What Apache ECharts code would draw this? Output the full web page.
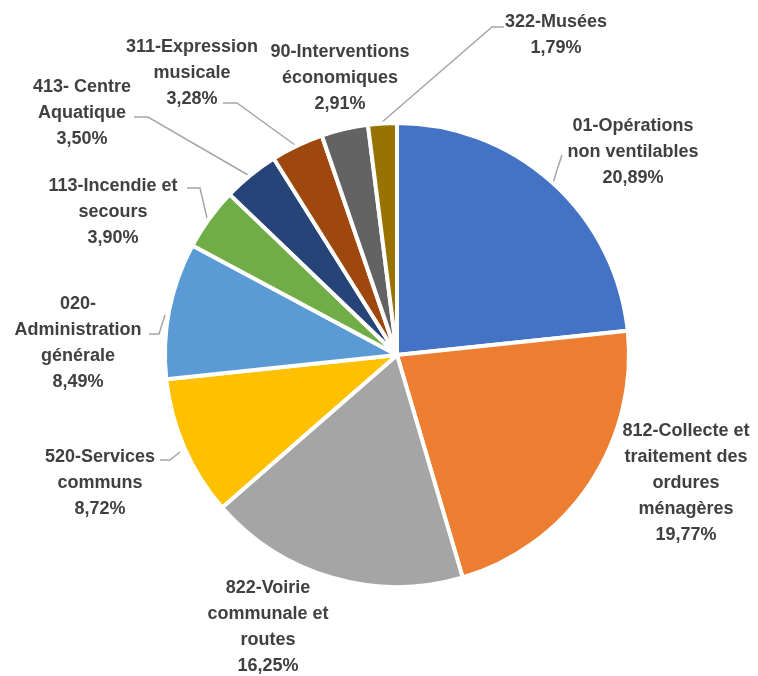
<!DOCTYPE html>
<html><head><meta charset="utf-8">
<script src="https://cdn.jsdelivr.net/npm/echarts@6/dist/echarts.min.js"></script>
<style>html,body{margin:0;padding:0;background:#fff}#c{width:758px;height:676px}</style>
</head><body><div id="c"></div>
<script>
const categories = [
  "01-Opérations\nnon ventilables",
  "812-Collecte et\ntraitement des\nordures\nménagères",
  "822-Voirie\ncommunale et\nroutes",
  "520-Services\ncommuns",
  "020-\nAdministration\ngénérale",
  "113-Incendie et\nsecours",
  "413- Centre\nAquatique",
  "311-Expression\nmusicale",
  "90-Interventions\néconomiques",
  "322-Musées"
];
const values = [20.89, 19.77, 16.25, 8.72, 8.49, 3.90, 3.50, 3.28, 2.91, 1.79];
const colors = ["#4472C4","#ED7D31","#A5A5A5","#FFC000","#5B9BD5","#70AD47","#264478","#9E480E","#636363","#997300"];
// label block centers (layout)
const labelPos = [[633,152],[686,483],[268,627],[100,483],[78,343],[113,212],[82,113],[192,73],[340,78],[556,35]];
// leader line points (layout), null = no line
const leaderLines = [
  [[562,155],[557,170],[553,183]],
  null,
  null,
  [[160,460],[170,460],[180,452]],
  [[149,334],[159,334],[165,315]],
  [[187,188],[200,188],[207,218]],
  [[134,117],[148,117],[248,175]],
  [[223,103],[237,103],[295,145]],
  null,
  [[504,27],[492,27],[381,123]]
];
const chart = echarts.init(document.getElementById('c'));
chart.setOption({
  animation:false,
  series:[{
    type:'pie',
    center:[397,355],
    radius:232,
    startAngle:90,
    clockwise:true,
    data: categories.map((n,i)=>({name:n,value:values[i],itemStyle:{color:colors[i]},
      labelLine:{show: leaderLines[i]!==null}})),
    itemStyle:{borderColor:'#fff',borderWidth:4},
    label:{
      show:true, position:'outside', overflow:'none',
      formatter: p => p.name + '\n' + p.value.toFixed(2).replace('.',',') + '%',
      fontFamily:'"Liberation Sans", Arial, sans-serif',
      fontWeight:'bold', fontSize:18, lineHeight:26, color:'#404040', align:'center'
    },
    labelLine:{show:true, lineStyle:{color:'#A6A6A6', width:1.5}},
    labelLayout: function(p){
      const i = p.dataIndex;
      const o = {x:labelPos[i][0], y:labelPos[i][1], align:'center', verticalAlign:'middle'};
      if (leaderLines[i]) o.labelLinePoints = leaderLines[i];
      return o;
    }
  }]
});
</script></body></html>
